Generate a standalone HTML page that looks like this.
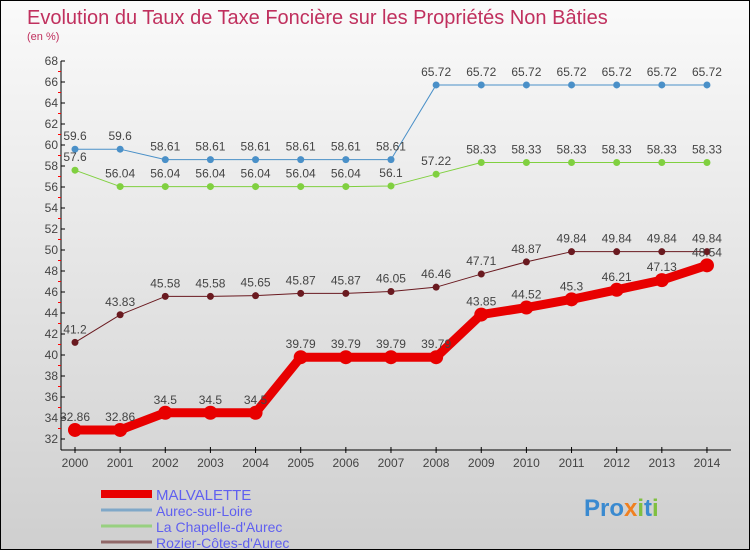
<!DOCTYPE html>
<html><head><meta charset="utf-8"><style>
body{margin:0}
#c{width:748px;height:548px;border:1px solid #000;background:linear-gradient(#fafafa,#cfcfcf);position:relative;font-family:"Liberation Sans",sans-serif}
</style></head><body>
<div id="c">
<svg id="s" width="748" height="548" style="position:absolute;left:0;top:0">
<text x="26" y="23" font-size="20" fill="#c0305e">Evolution du Taux de Taxe Foncière sur les Propriétés Non Bâties</text>
<text x="26" y="39" font-size="11" fill="#c0305e">(en %)</text>
</svg>
</div>
<script>
const years=["2000","2001","2002","2003","2004","2005","2006","2007","2008","2009","2010","2011","2012","2013","2014"];
const yTicks=[32,34,36,38,40,42,44,46,48,50,52,54,56,58,60,62,64,66,68];
const malvalette=[32.86,32.86,34.5,34.5,34.5,39.79,39.79,39.79,39.79,43.85,44.52,45.3,46.21,47.13,48.54];
const aurec=[59.6,59.6,58.61,58.61,58.61,58.61,58.61,58.61,65.72,65.72,65.72,65.72,65.72,65.72,65.72];
const chapelle=[57.6,56.04,56.04,56.04,56.04,56.04,56.04,56.1,57.22,58.33,58.33,58.33,58.33,58.33,58.33];
const rozier=[41.2,43.83,45.58,45.58,45.65,45.87,45.87,46.05,46.46,47.71,48.87,49.84,49.84,49.84,49.84];
const names=["MALVALETTE","Aurec-sur-Loire","La Chapelle-d'Aurec","Rozier-Côtes-d'Aurec"];
const s=document.getElementById('s'),NS="http://www.w3.org/2000/svg";
const X=i=>74+i*45.14, Y=v=>438-(v-32)*10.5;
function el(t,a,p){const e=document.createElementNS(NS,t);for(const k in a)e.setAttribute(k,a[k]);(p||s).appendChild(e);return e;}
let ax=el('line',{x1:60,y1:60,x2:60,y2:449,stroke:'#000'});

let bx=el('line',{x1:60,y1:449,x2:730,y2:449,stroke:'#000'});

yTicks.forEach(v=>{el('line',{x1:60,y1:Y(v),x2:64,y2:Y(v),stroke:'#000'});
 if(v<68)el('line',{x1:57,y1:Y(v+1),x2:60,y2:Y(v+1),stroke:'#f00'});
 const t=el('text',{x:57,y:Y(v)+4,'font-size':12,fill:'#444','text-anchor':'end'});t.textContent=v;
 });
years.forEach((y,i)=>{el('line',{x1:X(i),y1:446,x2:X(i),y2:452,stroke:'#000'});
 const t=el('text',{x:X(i),y:466,'font-size':12,fill:'#444','text-anchor':'middle'});t.textContent=y;
 });
function series(d,col,w,r,name){
 const g=el('g',{});
 el('polyline',{points:d.map((v,i)=>X(i)+','+Y(v)).join(' '),fill:'none',stroke:col,'stroke-width':w,'stroke-linejoin':'round'},g);
 d.forEach((v,i)=>{const c=el('circle',{cx:X(i),cy:Y(v),r:r,fill:col},g);
  
  const t=el('text',{x:X(i),y:Y(v)-9,'font-size':12,fill:'#444','text-anchor':'middle'},g);t.textContent=v;});
}
series(aurec,'#4a90c8',1,3.5,'series-aurec');
series(chapelle,'#80d040',1,3.5,'series-chapelle');
series(rozier,'#6a1a20',1,3.5,'series-rozier');
series(malvalette,'#e80000',9,7,'series-malvalette');
const lc=['#e80000','#80a8c8','#98d080','#906868'],lw=[8,3,3,3];
names.forEach((n,i)=>{const yy=493+i*16;
 el('line',{x1:100,y1:yy,x2:151,y2:yy,stroke:lc[i],'stroke-width':lw[i]});
 const t=el('text',{x:155,y:yy+6,'font-size':i==0?15:14,fill:'#6060f0'});t.textContent=n;
 });
const p=el('text',{x:583,y:515,'font-size':24,'font-weight':'bold',fill:'#3a8ad0'});

const parts=[['Pro','#3a8ad0'],['x','#f08020'],['i','#80c040'],['t','#3a8ad0'],['i','#80c040']];
parts.forEach(([c,f])=>{const ts=el('tspan',{fill:f},p);ts.textContent=c;});
</script>
</body></html>
